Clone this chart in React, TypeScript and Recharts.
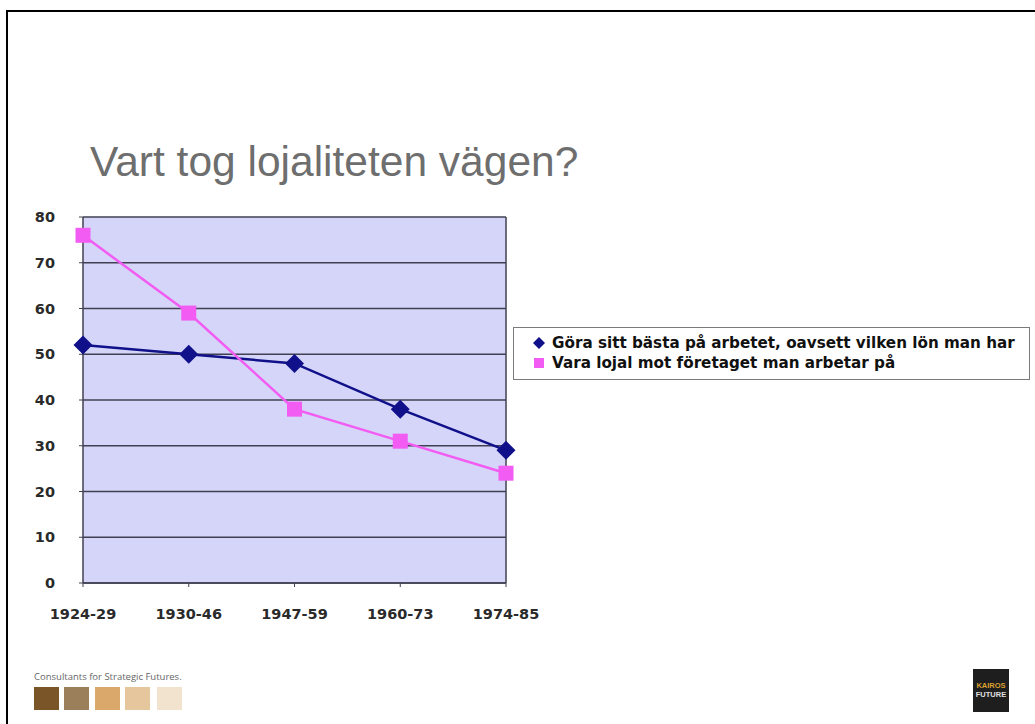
import React from 'react';
import { LineChart, Line, XAxis, YAxis, CartesianGrid, Legend, ReferenceLine } from 'recharts';

const periods = ['1924-29', '1930-46', '1947-59', '1960-73', '1974-85'];
const goraSittBasta = [52, 50, 48, 38, 29];
const varaLojal = [76, 59, 38, 31, 24];
const yTicks = [0, 10, 20, 30, 40, 50, 60, 70, 80];

const seriesNames = [
  'Göra sitt bästa på arbetet, oavsett vilken lön man har',
  'Vara lojal mot företaget man arbetar på',
];
const seriesColors = ['#10108a', '#f25cf2'];
const footerSwatches = ['#7a5527', '#9a7f5a', '#d9a86a', '#e6c69c', '#f2e3cf'];

const chartData = periods.map((p, i) => ({
  period: p,
  gora: goraSittBasta[i],
  lojal: varaLojal[i],
}));

const tickFont = { fontFamily: '"DejaVu Sans", sans-serif', fontWeight: 700, fontSize: 14.5, fill: '#2a2a2a' };

const Diamond = (props: any) => {
  const { cx, cy, index } = props;
  const r = 9.5;
  return (
    <polygon
      key={`d-${index}`}
      points={`${cx},${cy - r} ${cx + r},${cy} ${cx},${cy + r} ${cx - r},${cy}`}
      fill={seriesColors[0]}
    />
  );
};

const Square = (props: any) => {
  const { cx, cy, index } = props;
  const s = 15;
  return <rect key={`s-${index}`} x={cx - s / 2} y={cy - s / 2} width={s} height={s} fill={seriesColors[1]} />;
};

const LegendBox = () => (
  <div
    style={{
      border: '1px solid #7a7a7a',
      background: '#fff',
      padding: '5px 8px 6px 18px',
      boxSizing: 'border-box',
      fontFamily: '"DejaVu Sans", sans-serif',
      fontWeight: 700,
      fontSize: 15.2,
      color: '#111',
      lineHeight: '20px',
      whiteSpace: 'nowrap',
    }}
  >
    {seriesNames.map((name, i) => (
      <div key={name} style={{ display: 'flex', alignItems: 'center' }}>
        <svg width={14} height={14} style={{ marginRight: 6, flexShrink: 0 }}>
          {i === 0 ? (
            <polygon points="7,1 13,7 7,13 1,7" fill={seriesColors[0]} />
          ) : (
            <rect x={2} y={2} width={10} height={10} fill={seriesColors[1]} />
          )}
        </svg>
        <span>{name}</span>
      </div>
    ))}
  </div>
);

export default function App() {
  return (
    <div style={{ position: 'absolute', left: 0, top: 0, width: 1035, height: 724, background: '#fff', overflow: 'hidden' }}>
      <style>{'html, body { margin: 0; overflow: hidden; }'}</style>
      {/* slide frame: top and left edges only */}
      <div style={{ position: 'absolute', left: 6, top: 10, width: 1029, height: 2, background: '#000' }} />
      <div style={{ position: 'absolute', left: 6, top: 10, width: 2, height: 714, background: '#000' }} />
      <div
        style={{
          position: 'absolute',
          left: 90,
          top: 138,
          fontFamily: '"Liberation Sans", Arial, sans-serif',
          fontSize: 42.5,
          color: '#6e6e6e',
          whiteSpace: 'nowrap',
        }}
      >
        Vart tog lojaliteten vägen?
      </div>

      <div style={{ position: 'absolute', left: 0, top: 0 }}>
        <LineChart width={1035} height={724} data={chartData} margin={{ top: 217, right: 12, bottom: 101, left: 0 }}>
          <CartesianGrid
            vertical={false}
            fill="#d5d5fa"
            stroke="#404052"
            strokeWidth={1.5}
          />
          <XAxis
            dataKey="period"
            height={40}
            tick={tickFont}
            tickSize={4}
            tickMargin={22}
            axisLine={{ stroke: '#404052', strokeWidth: 1.5 }}
            tickLine={{ stroke: '#404052' }}
          />
          <YAxis
            width={83}
            domain={[0, 80]}
            ticks={yTicks}
            interval={0}
            tick={tickFont}
            tickSize={4}
            tickMargin={24}
            axisLine={{ stroke: '#404052', strokeWidth: 1.5 }}
            tickLine={{ stroke: '#404052' }}
          />
          <ReferenceLine x={periods[periods.length - 1]} stroke="#404052" strokeWidth={1.5} />
          <Legend
            layout="vertical"
            align="right"
            verticalAlign="middle"
            content={() => <LegendBox />}
            wrapperStyle={{ left: 513, top: 327, width: 517 }}
          />
          <Line
            type="linear"
            dataKey="gora"
            name={seriesNames[0]}
            stroke={seriesColors[0]}
            strokeWidth={2.5}
            dot={Diamond}
            activeDot={false}
            isAnimationActive={false}
          />
          <Line
            type="linear"
            dataKey="lojal"
            name={seriesNames[1]}
            stroke={seriesColors[1]}
            strokeWidth={2.5}
            dot={Square}
            activeDot={false}
            isAnimationActive={false}
          />
        </LineChart>
      </div>

      {/* footer */}
      <div
        style={{
          position: 'absolute',
          left: 34,
          top: 670,
          fontFamily: '"Open Sans", sans-serif',
          fontSize: 9.5,
          color: '#666',
          whiteSpace: 'nowrap',
        }}
      >
        Consultants for Strategic Futures.
      </div>
      {footerSwatches.map((c, i) => (
        <div
          key={c}
          style={{
            position: 'absolute',
            left: [34, 64, 95, 125, 157][i],
            top: 687,
            width: 25,
            height: 23,
            background: c,
          }}
        />
      ))}
      <div
        style={{
          position: 'absolute',
          left: 973,
          top: 669,
          width: 36,
          height: 43,
          background: '#1e1e1e',
          fontFamily: '"Liberation Sans", Arial, sans-serif',
          fontWeight: 700,
          fontSize: 7.5,
          lineHeight: '9px',
          textAlign: 'center',
          paddingTop: 12,
          boxSizing: 'border-box',
        }}
      >
        <div style={{ color: '#d9a030' }}>KAIROS</div>
        <div style={{ color: '#e0e0e0' }}>FUTURE</div>
      </div>
    </div>
  );
}
